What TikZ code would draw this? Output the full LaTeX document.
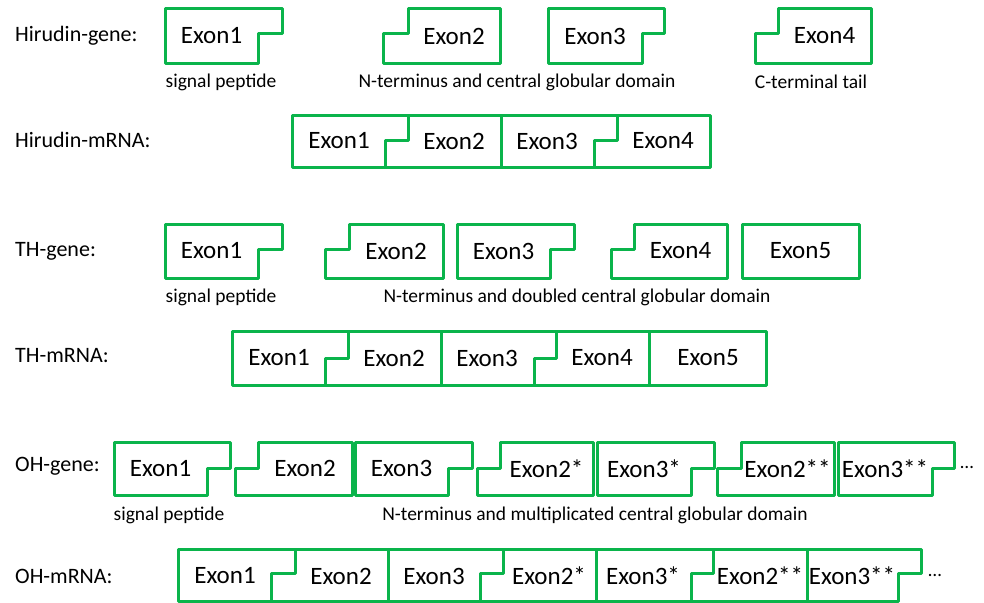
\documentclass[tikz,border=0pt]{standalone}
\usepackage{fontspec}
\setmainfont{Carlito}
\definecolor{exgreen}{RGB}{10,180,75}
\newcommand\gexon[9]{%
  \draw[exline] (#2,#5) -- (#2,#6) -- (#7,#6) -- (#7,#4) -- (#3,#4) -- (#3,#6) -- (#8,#6) -- (#8,#5) -- cycle;
  \node[exontext] (#1) at ({(#7+#8)/2},{(#4+#5)/2}) {#9};}
\newcommand\stepdiv[5]{%
  \draw[exline] (#1,#3) -- (#1,#4) -- (#2,#4) -- (#2,#5);}
\begin{document}
\begin{tikzpicture}[x=1pt,y=-1pt,
  exline/.style={draw=exgreen,line width=3pt,line join=round},
  exontext/.style={font=\fontsize{25}{25}\selectfont,inner sep=0pt},
  rowlabel/.style={font=\fontsize{22}{22}\selectfont,anchor=west,inner sep=0pt},
  desc/.style={font=\fontsize{19.5}{19.5}\selectfont,inner sep=0pt}]
\useasboundingbox (0,0) rectangle (984,602);
\fill[white] (0,0) rectangle (984,602);

% ---------- Hirudin-gene ----------
\node[rowlabel] (hgl) at (15,36) {Hirudin-gene:};
\gexon{hg1}{165}{282}{9}{63}{34}{165}{258}{Exon1}
\gexon{hg2}{383}{500}{9}{63}{34}{408}{500}{Exon2}
\gexon{hg3}{548}{664}{9}{63}{34}{548}{642}{Exon3}
\gexon{hg4}{755}{871}{9}{63}{34}{778}{871}{Exon4}
\node[desc] (hd1) at (221,82) {signal peptide};
\node[desc] (hd2) at (517,82) {N-terminus and central globular domain};
\node[desc] (hd3) at (811,82) {C-terminal tail};

% ---------- Hirudin-mRNA ----------
\node[rowlabel] (hml) at (15,140) {Hirudin-mRNA:};
\draw[exline] (292,115) rectangle (710,167);
\stepdiv{408}{385}{115}{140}{167}
\draw[exline] (501,115) -- (501,167);
\stepdiv{617}{594}{115}{140}{167}
\node[exontext] (hm1) at (339,141) {Exon1};
\node[exontext] (hm2) at (454,141) {Exon2};
\node[exontext] (hm3) at (547,141) {Exon3};
\node[exontext] (hm4) at (663,141) {Exon4};

% ---------- TH-gene ----------
\node[rowlabel] (tgl) at (15,251) {TH-gene:};
\gexon{tg1}{165}{282}{224}{278}{249}{165}{258}{Exon1}
\gexon{tg2}{325}{443}{224}{278}{249}{349}{443}{Exon2}
\gexon{tg3}{457}{574}{224}{278}{249}{457}{550}{Exon3}
\gexon{tg4}{611}{727}{224}{278}{249}{634}{727}{Exon4}
\gexon{tg5}{742}{859}{224}{278}{249}{742}{859}{Exon5}
\node[desc] (td1) at (221,297) {signal peptide};
\node[desc] (td2) at (577,297) {N-terminus and doubled central globular domain};

% ---------- TH-mRNA ----------
\node[rowlabel] (tml) at (15,356) {TH-mRNA:};
\draw[exline] (232,331) rectangle (766,385);
\stepdiv{348}{325}{331}{358}{385}
\draw[exline] (441,331) -- (441,385);
\stepdiv{556}{534}{331}{358}{385}
\draw[exline] (649,331) -- (649,385);
\node[exontext] (tm1) at (279,358) {Exon1};
\node[exontext] (tm2) at (394,358) {Exon2};
\node[exontext] (tm3) at (487,358) {Exon3};
\node[exontext] (tm4) at (602,358) {Exon4};
\node[exontext] (tm5) at (708,358) {Exon5};

% ---------- OH-gene ----------
\node[rowlabel] (ogl) at (15,466) {OH-gene:};
\gexon{og1}{114}{230}{442}{495}{468}{114}{207}{Exon1}
\gexon{og2}{235}{352}{442}{495}{468}{258}{352}{Exon2}
\gexon{og3}{355}{472}{442}{495}{468}{355}{448}{Exon3}
\gexon{og4}{477}{593}{442}{495}{468}{500}{593}{Exon2*}
\gexon{og5}{597}{714}{442}{495}{468}{597}{691}{Exon3*}
\gexon{og6}{717}{834}{442}{495}{468}{741}{834}{Exon2**}
\gexon{og7}{838}{954}{442}{495}{468}{838}{932}{Exon3**}
\node[exontext] (ogdots) at (967,467) {\fontsize{19}{19}\selectfont …};
\node[desc] (od1) at (169,515) {signal peptide};
\node[desc] (od2) at (595,515) {N-terminus and multiplicated central globular domain};

% ---------- OH-mRNA ----------
\node[rowlabel] (oml) at (15,576) {OH-mRNA:};
\draw[exline] (178,549) -- (921,549) -- (921,573) -- (898,573) -- (898,601) -- (178,601) -- cycle;
\stepdiv{295}{271}{549}{573}{601}
\draw[exline] (388,549) -- (388,601);
\stepdiv{503}{480}{549}{573}{601}
\draw[exline] (596,549) -- (596,601);
\stepdiv{713}{691}{549}{573}{601}
\draw[exline] (807,549) -- (807,601);
\node[exontext] (om1) at (225,576) {Exon1};
\node[exontext] (om2) at (341,576) {Exon2};
\node[exontext] (om3) at (434,576) {Exon3};
\node[exontext] (om4) at (549,576) {Exon2*};
\node[exontext] (om5) at (643,576) {Exon3*};
\node[exontext] (om6) at (760,576) {Exon2**};
\node[exontext] (om7) at (852,576) {Exon3**};
\node[exontext] (omdots) at (935,575) {\fontsize{19}{19}\selectfont …};
\end{tikzpicture}
\end{document}
